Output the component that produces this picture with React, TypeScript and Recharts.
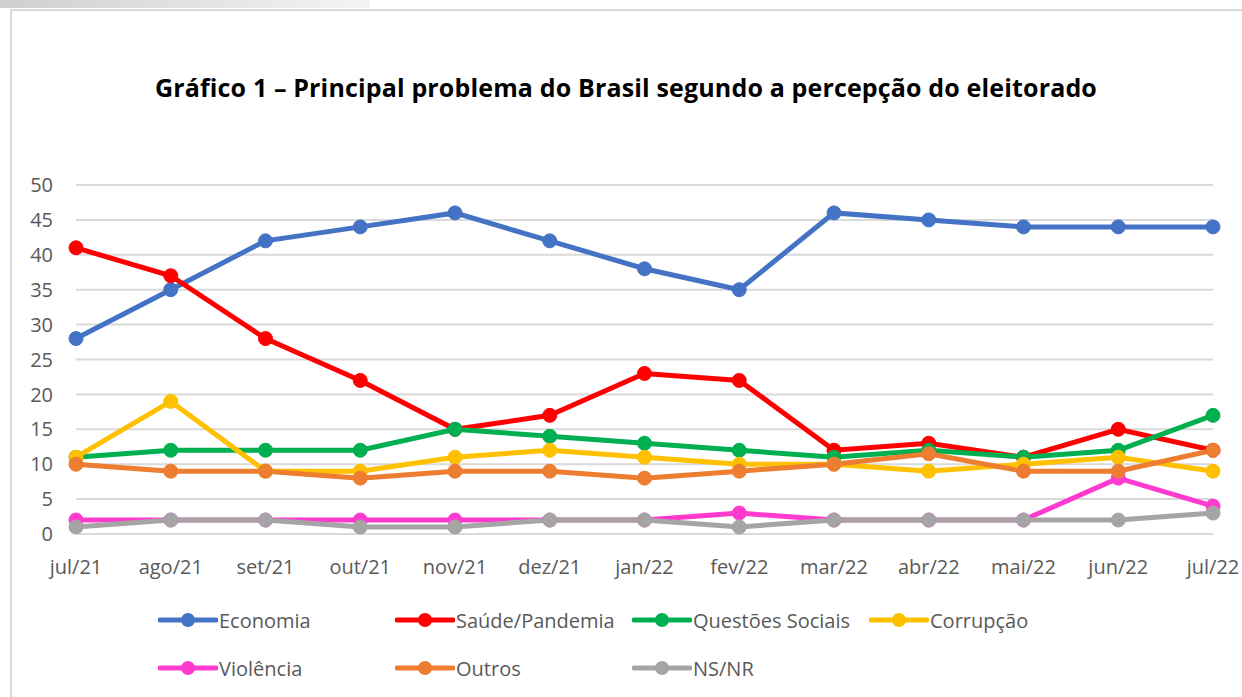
import React from "react";
import { LineChart, Line, XAxis, YAxis, CartesianGrid } from "recharts";

const months = ["jul/21", "ago/21", "set/21", "out/21", "nov/21", "dez/21", "jan/22", "fev/22", "mar/22", "abr/22", "mai/22", "jun/22", "jul/22"];
const economia = [28, 35, 42, 44, 46, 42, 38, 35, 46, 45, 44, 44, 44];
const saude = [41, 37, 28, 22, 15, 17, 23, 22, 12, 13, 11, 15, 12];
const questoes = [11, 12, 12, 12, 15, 14, 13, 12, 11, 12, 11, 12, 17];
const corrupcao = [11, 19, 9, 9, 11, 12, 11, 10, 10, 9, 10, 11, 9];
const violencia = [2, 2, 2, 2, 2, 2, 2, 3, 2, 2, 2, 8, 4];
const outros = [10, 9, 9, 8, 9, 9, 8, 9, 10, 11.5, 9, 9, 12];
const nsnr = [1, 2, 2, 1, 1, 2, 2, 1, 2, 2, 2, 2, 3];
const yTicks = [0, 5, 10, 15, 20, 25, 30, 35, 40, 45, 50];

const series = [
  { key: "economia", name: "Economia", color: "#4472C4", values: economia },
  { key: "saude", name: "Saúde/Pandemia", color: "#FF0000", values: saude },
  { key: "questoes", name: "Questões Sociais", color: "#00B050", values: questoes },
  { key: "corrupcao", name: "Corrupção", color: "#FFC000", values: corrupcao },
  { key: "violencia", name: "Violência", color: "#FF3BCF", values: violencia },
  { key: "outros", name: "Outros", color: "#ED7D31", values: outros },
  { key: "nsnr", name: "NS/NR", color: "#A5A5A5", values: nsnr },
];

const data = months.map((m, i) => {
  const row: Record<string, any> = { month: m };
  series.forEach((s) => (row[s.key] = s.values[i]));
  return row;
});

const FONT = "'Open Sans', 'Liberation Sans', sans-serif";

export default function App() {
  return (
    <div style={{ position: "absolute", left: 0, top: 0, width: 1242, height: 697, background: "#fff", fontFamily: FONT, overflow: "hidden" }}>
      <div style={{ position: "absolute", left: 0, top: 0, width: 370, height: 8, background: "linear-gradient(to right, #cfcfcf, #f4f4f4)" }} />
      <div style={{ position: "absolute", left: 10, top: 9, width: 1240, height: 700, borderTop: "2px solid #d9d9d9", borderLeft: "2px solid #d9d9d9" }} />
      <div style={{ position: "absolute", left: 0, width: 1252, top: 70, textAlign: "center", fontSize: 25, fontWeight: 700, color: "#000", lineHeight: "34px", letterSpacing: 0.15 }}>
        Gráfico 1 – Principal problema do Brasil segundo a percepção do eleitorado
      </div>
      <div style={{ position: "absolute", left: 0, top: 0 }}>
        <LineChart width={1242} height={697} data={data} margin={{ top: 185, right: 29, bottom: 123, left: 0 }}>
          <CartesianGrid vertical={false} stroke="#d9d9d9" strokeWidth={2} />
          <XAxis dataKey="month" axisLine={false} tickLine={false} height={40} tickMargin={20}
            tick={{ fill: "#595959", fontSize: 20, fontFamily: FONT }} interval={0} />
          <YAxis width={76} domain={[0, 50]} ticks={yTicks} axisLine={false} tickLine={false} tickMargin={17}
            tick={{ fill: "#595959", fontSize: 20, fontFamily: FONT }} />
          {series.map((s) => (
            <Line key={s.key} dataKey={s.key} name={s.name} stroke={s.color} strokeWidth={5}
              dot={{ r: 7, fill: s.color, stroke: s.color, strokeWidth: 1 }} activeDot={false}
              isAnimationActive={false} />
          ))}
        </LineChart>
      </div>
      {series.map((s, i) => {
        const col = i % 4;
        const row = Math.floor(i / 4);
        return (
          <div key={s.key} style={{ position: "absolute", left: 158 + col * 237, top: 605 + row * 48, height: 30, display: "flex", alignItems: "center", fontSize: 20, color: "#595959" }}>
            <svg width={60} height={30}>
              <line x1={2} y1={15} x2={58} y2={15} stroke={s.color} strokeWidth={5} strokeLinecap="round" />
              <circle cx={30} cy={15} r={7} fill={s.color} />
            </svg>
            <span style={{ marginLeft: 1 }}>{s.name}</span>
          </div>
        );
      })}
    </div>
  );
}
